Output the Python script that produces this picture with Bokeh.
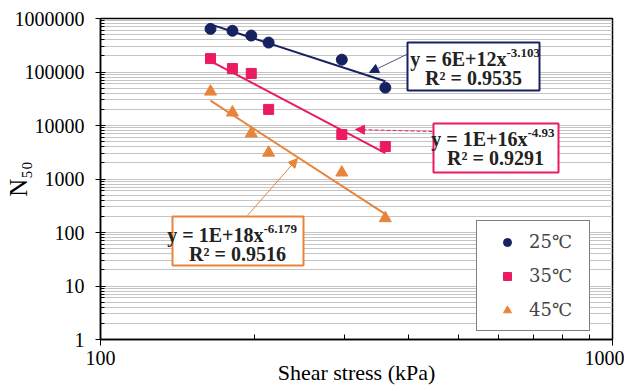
import numpy as np
from bokeh.plotting import figure
from bokeh.models import (Range1d, FixedTicker, Label, BoxAnnotation, Arrow,
                          NormalHead, CustomJSTickFormatter)
from bokeh.embed import file_html
from bokeh.resources import INLINE

# ---------------- data ----------------
shear_kpa = [164, 181, 197, 213, 296, 360]
n50_25c = [640000, 590000, 480000, 355000, 170000, 51000]
n50_35c = [178000, 116000, 94000, 20000, 6800, 4050]
n50_45c = [43000, 17500, 7100, 3100, 1320, 185]
series_names = ["25℃", "35℃", "45℃"]
eq_main = ["y = 6E+12x", "y = 1E+16x", "y = 1E+18x"]
eq_exp = ["-3.103", "-4.93", "-6.179"]
eq_r2 = ["R² = 0.9535", "R² = 0.9291", "R² = 0.9516"]
y_ticks = [1, 10, 100, 1000, 10000, 100000, 1000000]
x_ticks = [100, 1000]
x_title = "Shear stress (kPa)"
y_title = "N₅₀"

NAVY = "#15225f"
PINK = "#ea1a63"
ORANGE = "#e8843a"
FONT = "Liberation Serif"
FONT_SYM = "DejaVu Serif"

# frame geometry (page pixels) used to place annotations
FL, FR, FT, FB = 100, 612, 18, 339


def X(px):
    return 10 ** (2 + (px - FL) / (FR - FL))


def Y(py):
    return 10 ** (6 - (py - FT) / (FB - FT) * 6)


p = figure(width=624, height=389, x_axis_type="log", y_axis_type="log",
           x_range=Range1d(100, 1000), y_range=Range1d(1, 1e6),
           output_backend="svg", toolbar_location=None,
           min_border_left=100, min_border_right=12, min_border_top=18,
           min_border_bottom=50)

p.outline_line_color = "black"
p.outline_line_width = 1.5
p.background_fill_color = "white"

# axes
p.yaxis.ticker = FixedTicker(ticks=y_ticks,
                             minor_ticks=[m * d for d in y_ticks[:-1] for m in range(2, 10)])
p.xaxis.ticker = FixedTicker(ticks=x_ticks,
                             minor_ticks=[m * 100 for m in range(2, 10)])
fmt = CustomJSTickFormatter(code="return tick.toFixed(0);")
for ax in (p.xaxis, p.yaxis):
    ax.formatter = fmt
    ax.axis_line_color = "black"
    ax.axis_line_width = 1.5
    ax.major_tick_line_color = "black"
    ax.minor_tick_line_color = "black"
    ax.major_label_text_font = FONT
    ax.major_label_text_font_size = "20px"
    ax.major_label_text_color = "black"
    ax.axis_label_text_font = FONT
    ax.axis_label_text_font_style = "normal"
    ax.axis_label_text_color = "black"
p.yaxis.major_tick_in = 5
p.yaxis.major_tick_out = 5
p.yaxis.minor_tick_in = 4
p.yaxis.minor_tick_out = 0
p.yaxis.major_label_standoff = 11
p.xaxis.major_tick_in = 0
p.xaxis.major_tick_out = 6
p.xaxis.minor_tick_in = 5
p.xaxis.minor_tick_out = 0
p.xaxis.major_label_standoff = 5

p.xaxis.axis_label = x_title
p.xaxis.axis_label_text_font_size = "22px"
p.xaxis.axis_label_standoff = -8
p.yaxis.axis_label = y_title
p.yaxis.axis_label_text_font_size = "25px"
p.yaxis.axis_label_standoff = -20

p.xgrid.visible = False
p.ygrid.grid_line_color = "#c4c4c4"
p.ygrid.minor_grid_line_color = "#c4c4c4"
p.ygrid.grid_line_width = 1
p.ygrid.minor_grid_line_width = 1

# trend lines: least-squares power fit of each series
lx = np.log10(shear_kpa)
xr = np.array([min(shear_kpa), max(shear_kpa)])
colors = [NAVY, PINK, ORANGE]
markers = ["circle", "square", "triangle"]
sizes = [11, 10, 12]
all_series = [n50_25c, n50_35c, n50_45c]
for ys, c in zip(all_series, colors):
    b, a = np.polyfit(lx, np.log10(ys), 1)
    p.line(xr, 10 ** (a + b * np.log10(xr)), line_color=c, line_width=2)

for ys, c, m, s, name in zip(all_series, colors, markers, sizes, series_names):
    p.scatter(shear_kpa, ys, marker=m, size=s, fill_color=c, line_color=c,
              legend_label=name)

# legend
lg = p.legend[0]
lg.location = (376, 8)
lg.border_line_color = "black"
lg.border_line_width = 1
lg.background_fill_color = "white"
lg.background_fill_alpha = 1
lg.padding = 10
lg.spacing = 13
lg.glyph_width = 40
lg.glyph_height = 20
lg.label_height = 20
lg.label_width = 50
lg.label_standoff = 2
lg.label_text_font = FONT_SYM
lg.label_text_font_size = "18px"
lg.margin = 0

# arrows
arrows = [((406, 54), (369, 72), "#4a5580", None, NAVY),
          ((432, 131), (355, 129), PINK, "4 2", PINK),
          ((247, 215), (297, 158), ORANGE, None, ORANGE)]
for (s0, s1), (e0, e1), lc, dash, hc in arrows:
    kw = dict(line_dash=dash) if dash else {}
    p.add_layout(Arrow(end=NormalHead(size=9, fill_color=hc, line_color=hc),
                       x_start=X(s0), y_start=Y(s1), x_end=X(e0), y_end=Y(e1),
                       line_color=lc, line_width=1, **kw))

# equation boxes
boxes = [(407, 539, 42, 90, 506, 58, 473, 77),
         (433, 558, 123, 172, 527, 138, 495, 157),
         (172, 303, 216, 265, 263, 234, 237, 253)]
for (l, r, t, bt, ax_, ay, rx, ry), c, m, e, r2 in zip(boxes, colors, eq_main, eq_exp, eq_r2):
    p.add_layout(BoxAnnotation(left=X(l), right=X(r), top=Y(t), bottom=Y(bt),
                               fill_color="white", fill_alpha=1,
                               line_color=c, line_width=2, line_alpha=1))
    p.add_layout(Label(x=X(ax_), y=Y(ay), text=m, text_align="right",
                       text_baseline="middle", text_font=FONT,
                       text_font_style="bold", text_font_size="20px",
                       text_color="#222222"))
    p.add_layout(Label(x=X(ax_), y=Y(ay - 6), text=e, text_align="left",
                       text_baseline="middle", text_font=FONT,
                       text_font_style="bold", text_font_size="13px",
                       text_color="#222222"))
    p.add_layout(Label(x=X(rx), y=Y(ry), text=r2, text_align="center",
                       text_baseline="middle", text_font=FONT,
                       text_font_style="bold", text_font_size="20px",
                       text_color="#222222"))

open("out.html", "w").write(file_html(p, INLINE))
